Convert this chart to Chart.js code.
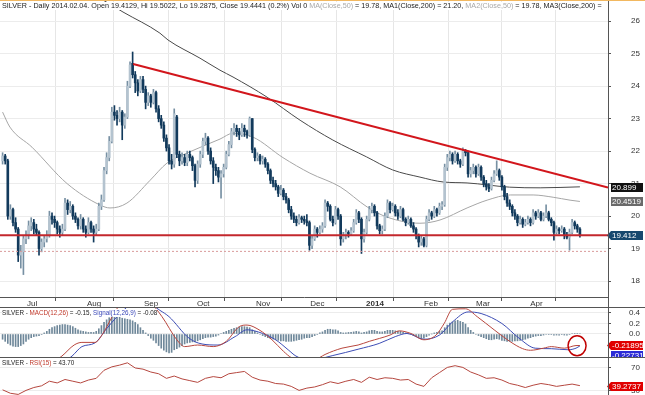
<!DOCTYPE html>
<html>
<head>
<meta charset="utf-8">
<title>SILVER daily</title>
<script src="https://cdn.jsdelivr.net/npm/chart.js@4.4.1/dist/chart.umd.min.js"></script>
<style>
  body { margin:0; background:#fff; font-family:"Liberation Sans", Arial, sans-serif; }
  #wrap { position:relative; width:645px; height:395px; overflow:hidden; background:#fff; }
  canvas { position:absolute; left:0; }
  .ttl { position:absolute; left:2px; font-size:7.2px; line-height:8px; color:#222; background:#fff; white-space:nowrap; }
  .sm { font-size:6.3px; }
  .g { color:#a8a8a8; } .r { color:#c0392b; } .b { color:#3a48b8; }
  .hl { position:absolute; left:0; width:645px; height:1px; background:#555; }
  #vline { position:absolute; left:608px; top:0; width:1px; height:395px; background:#555; }
  #topbar { position:absolute; left:0; top:0; width:645px; height:1px; background:#f2b860; }
</style>
</head>
<body>
<div id="wrap">
  <canvas id="price" width="645" height="308" style="top:0"></canvas>
  <canvas id="macd" width="645" height="49" style="top:308px"></canvas>
  <canvas id="rsi" width="645" height="37" style="top:358px"></canvas>
  <div class="hl" style="top:307px"></div>
  <div class="hl" style="top:357px"></div>
  <div id="vline"></div>
  <div id="topbar"></div>
  <div class="ttl" style="top:2px">SILVER - Daily 2014.02.04. Open 19.4129, Hi 19.5022, Lo 19.2875, Close 19.4441 (0.2%) Vol 0 <span class="g">MA(Close,50)</span> = 19.78, MA1(Close,200) = 21.20, <span class="g">MA2(Close,50)</span> = 19.78, MA3(Close,200) = </div>
  <div class="ttl sm" style="top:309px">SILVER - <span class="r">MACD(12,26)</span> = -0.15, <span class="b">Signal(12,26,9)</span> = -0.08</div>
  <div class="ttl sm" style="top:359px">SILVER - <span class="r">RSI(15)</span> = 43.70</div>
</div>
<script>
// x = trading day index, 0 = first candle (late June 2013)
const monthPos = [8.6, 31.7, 53.6, 74, 96.7, 117.5, 139, 161.3, 181.3, 202.1];
const monthNames = ['Jul', 'Aug', 'Sep', 'Oct', 'Nov', 'Dec', '2014', 'Feb', 'Mar', 'Apr'];
const priceTicks = [18, 19, 20, 21, 22, 23, 24, 25, 26];
const macdTicks = [0, 0.2, 0.4];
const rsiTicks = [30, 70];

const opens = [
  21.70,21.85,21.70,20.00,20.20,19.80,19.60,18.80,18.90,19.30,
  19.40,19.70,19.80,19.60,19.50,19.00,19.20,19.30,19.40,20.00,
  19.90,19.80,19.60,19.50,19.60,20.40,20.20,20.30,20.00,19.90,
  19.70,19.90,19.60,19.50,19.80,19.60,19.50,19.60,20.30,20.50,
  21.40,21.80,22.30,23.20,23.10,23.00,23.20,22.80,23.05,24.00,
  24.70,24.35,24.10,23.85,24.20,23.90,23.50,23.70,23.50,23.80,
  23.30,23.00,22.80,22.40,22.10,21.70,21.60,23.05,21.90,21.70,
  21.80,21.65,21.90,21.80,21.55,21.10,21.60,21.90,22.30,22.40,
  22.00,21.70,21.50,21.40,21.20,21.30,21.50,21.90,22.20,22.60,
  22.70,22.60,22.50,22.70,22.60,22.50,23.00,22.05,21.80,21.85,
  21.70,21.75,21.60,21.40,21.10,21.00,20.90,20.70,20.80,20.60,
  20.50,20.20,20.00,19.90,19.80,19.95,19.90,19.85,19.80,19.10,
  19.30,19.60,19.50,19.60,19.70,20.40,20.30,19.90,19.80,20.20,
  20.00,19.30,19.40,19.50,19.45,19.55,19.80,20.10,19.90,19.30,
  19.50,19.90,20.20,20.30,20.10,19.70,19.55,19.60,20.00,20.40,
  20.20,20.30,20.10,20.00,20.20,19.90,19.80,19.90,19.70,19.60,
  19.40,19.20,19.30,19.10,19.90,20.10,20.00,20.20,20.10,20.30,
  20.35,21.50,21.80,21.90,21.70,21.90,21.70,21.60,22.00,21.95,
  21.30,21.40,21.50,21.30,21.50,21.20,21.00,20.90,20.85,21.10,
  21.30,21.40,21.20,20.90,20.60,20.40,20.30,20.10,20.00,19.80,
  19.90,19.75,19.80,19.90,19.80,20.10,20.00,20.10,19.90,20.00,
  20.10,19.90,19.80,19.50,19.60,19.55,19.60,19.40,19.35,19.50,
  19.80,19.70,19.60
];
const highs = [
  21.95,21.90,21.75,20.35,20.25,19.95,19.65,19.10,19.40,19.55,
  19.85,19.95,19.90,19.75,19.55,19.30,19.40,19.55,20.15,20.10,
  20.00,19.85,19.70,19.75,20.55,20.50,20.45,20.35,20.10,19.95,
  20.05,19.95,19.70,19.95,19.85,19.70,19.75,20.40,20.65,21.50,
  21.95,22.45,23.35,23.40,23.25,23.35,23.25,23.15,24.15,24.75,
  25.05,24.45,24.20,24.30,24.30,24.00,23.80,23.75,23.90,23.85,
  23.40,23.10,22.90,22.50,22.20,21.90,23.30,23.10,22.00,21.95,
  21.90,22.00,22.00,21.85,21.60,21.70,22.00,22.40,22.55,22.45,
  22.10,21.80,21.60,21.50,21.40,21.60,22.00,22.30,22.70,22.85,
  22.80,22.70,22.85,22.80,22.65,23.05,23.00,22.10,21.95,21.90,
  21.85,21.80,21.65,21.45,21.20,21.10,20.95,20.95,20.85,20.70,
  20.55,20.30,20.10,20.00,20.05,20.00,20.00,20.05,19.85,19.40,
  19.70,19.65,19.70,19.80,20.50,20.45,20.35,20.00,20.30,20.25,
  20.05,19.50,19.60,19.55,19.65,19.90,20.20,20.15,19.95,19.60,
  20.00,20.30,20.40,20.35,20.15,19.75,19.70,20.10,20.50,20.45,
  20.40,20.35,20.20,20.30,20.25,19.95,20.00,19.95,19.80,19.65,
  19.45,19.40,19.35,20.00,20.20,20.15,20.30,20.25,20.40,20.45,
  21.60,21.90,22.00,21.95,22.00,21.95,21.75,22.10,22.05,22.00,
  21.50,21.60,21.55,21.60,21.55,21.25,21.10,21.00,21.20,21.40,
  21.70,21.45,21.25,20.95,20.70,20.50,20.35,20.20,20.05,20.00,
  19.95,19.90,20.00,19.95,20.20,20.15,20.20,20.15,20.10,20.35,
  20.15,19.95,19.85,19.70,19.65,19.70,19.65,19.50,19.60,19.90,
  19.85,19.75,19.65
];
const lows = [
  21.60,21.60,19.90,19.90,19.70,19.50,18.60,18.40,18.20,19.15,
  19.30,19.55,19.45,19.40,18.80,18.90,19.05,19.20,19.35,19.75,
  19.65,19.45,19.35,19.40,19.55,20.05,20.10,19.90,19.80,19.60,
  19.60,19.50,19.35,19.45,19.50,19.20,19.40,19.55,20.20,20.45,
  21.30,21.70,22.25,22.95,22.80,22.90,22.35,22.70,23.00,23.95,
  24.25,23.80,23.70,23.80,23.80,23.30,23.40,23.35,23.45,23.20,
  22.90,22.70,22.30,22.00,21.60,21.45,21.50,21.80,21.55,21.60,
  21.55,21.55,21.70,21.40,20.90,21.00,21.50,21.80,22.20,21.90,
  21.60,21.00,21.25,21.05,20.55,21.20,21.45,21.85,22.10,22.50,
  22.45,22.35,22.45,22.45,22.40,22.45,21.95,21.70,21.70,21.60,
  21.60,21.50,21.30,21.00,20.90,20.80,20.60,20.65,20.50,20.40,
  20.10,19.90,19.80,19.70,19.75,19.80,19.75,19.70,18.95,19.00,
  19.25,19.35,19.45,19.50,19.65,20.15,19.85,19.70,19.75,19.90,
  19.10,19.20,19.30,19.35,19.40,19.50,19.75,19.80,18.85,19.20,
  19.45,19.85,20.10,20.00,19.60,19.45,19.45,19.55,19.95,20.10,
  20.15,20.00,19.90,19.95,19.85,19.70,19.75,19.65,19.50,19.30,
  19.05,19.10,19.05,19.05,19.85,19.90,19.95,20.00,20.05,20.20,
  20.30,21.40,21.70,21.60,21.65,21.60,21.50,21.55,21.85,21.20,
  21.20,21.30,21.20,21.25,21.10,20.90,20.80,20.75,20.80,21.05,
  21.25,21.10,20.80,20.50,20.30,20.20,20.00,19.90,19.70,19.75,
  19.65,19.70,19.75,19.70,19.75,19.90,19.95,19.85,19.85,19.95,
  19.85,19.70,19.26,19.45,19.45,19.50,19.30,19.30,18.95,19.45,
  19.60,19.50,19.35
];
const closes = [
  21.85,21.70,20.00,20.20,19.80,19.60,18.80,18.90,19.30,19.40,
  19.70,19.80,19.60,19.50,19.00,19.20,19.30,19.40,20.00,19.90,
  19.80,19.60,19.50,19.60,20.40,20.20,20.30,20.00,19.90,19.70,
  19.90,19.60,19.50,19.80,19.60,19.50,19.60,20.30,20.50,21.40,
  21.80,22.30,23.20,23.10,23.00,23.20,22.80,23.05,24.00,24.65,
  24.35,24.10,23.85,24.20,23.90,23.50,23.70,23.50,23.80,23.30,
  23.00,22.80,22.40,22.10,21.70,21.60,23.15,21.90,21.70,21.80,
  21.65,21.90,21.80,21.55,21.10,21.60,21.90,22.30,22.40,22.00,
  21.70,21.50,21.40,21.20,21.30,21.50,21.90,22.20,22.60,22.70,
  22.60,22.50,22.70,22.60,22.50,23.00,22.05,21.80,21.85,21.70,
  21.75,21.60,21.40,21.10,21.00,20.90,20.70,20.80,20.60,20.50,
  20.20,20.00,19.90,19.80,19.95,19.90,19.85,19.80,19.10,19.30,
  19.60,19.50,19.60,19.70,20.40,20.30,19.90,19.80,20.20,20.00,
  19.30,19.40,19.50,19.45,19.55,19.80,20.10,19.90,19.30,19.50,
  19.90,20.20,20.30,20.10,19.70,19.55,19.60,20.00,20.40,20.20,
  20.30,20.10,20.00,20.20,19.90,19.80,19.90,19.70,19.60,19.40,
  19.20,19.30,19.10,19.90,20.10,20.00,20.20,20.10,20.30,20.35,
  21.50,21.80,21.90,21.70,21.90,21.70,21.60,22.00,21.95,21.30,
  21.40,21.50,21.30,21.50,21.20,21.00,20.90,20.85,21.10,21.30,
  21.40,21.20,20.90,20.60,20.40,20.30,20.10,20.00,19.80,19.90,
  19.75,19.80,19.90,19.80,20.10,20.00,20.10,19.90,20.00,20.10,
  19.90,19.80,19.50,19.60,19.55,19.60,19.40,19.35,19.50,19.80,
  19.70,19.60,19.40
];

// moving averages as [day, value]
const ma50 = [[0,23.2],[2.8,22.74],[11.3,22.12],[24.8,21.0],[37.5,20.34],[41.3,20.25],[47.8,20.4],
  [56.7,21.1],[63.2,21.63],[70.9,21.94],[83.6,22.37],[88.6,22.55],[96.3,22.43],[107.8,21.8],
  [118.2,21.32],[129.8,20.9],[140.2,20.28],[147.8,19.97],[160.5,19.78],[168.2,19.88],[178.6,20.25],
  [186.3,20.49],[195.2,20.65],[204,20.65],[211.7,20.58],[218.2,20.49],[222,20.45]];
const ma200 = [[0,28.4],[38.6,26.65],[46.3,26.28],[60.5,25.63],[63.6,25.42],[75.9,24.86],[83.6,24.49],
  [88.6,24.28],[101.7,23.66],[114.4,22.95],[127,22.34],[140,21.82],[150,21.42],[160.5,21.2],
  [169.4,21.05],[178.6,21.02],[195,20.89],[206.7,20.87],[222,20.9]];
const trendLine = [[50.2,24.68],[232.8,20.88]];
const supportLevel = 19.412;
const dottedLevel = 18.914;

const macdHist = [
  -0.10,-0.14,-0.18,-0.21,-0.23,-0.24,-0.24,-0.22,-0.19,-0.14,
  -0.10,-0.07,-0.05,-0.04,-0.03,-0.01,0.02,0.05,0.09,0.12,
  0.14,0.16,0.17,0.18,0.18,0.17,0.16,0.14,0.11,0.08,
  0.06,0.05,0.04,0.03,0.03,0.03,0.05,0.10,0.16,0.22,
  0.27,0.31,0.33,0.34,0.33,0.32,0.30,0.29,0.28,0.27,
  0.25,0.22,0.18,0.12,0.07,0.02,-0.03,-0.08,-0.12,-0.17,
  -0.22,-0.27,-0.31,-0.34,-0.36,-0.35,-0.30,-0.28,-0.25,-0.22,
  -0.19,-0.17,-0.16,-0.15,-0.15,-0.13,-0.11,-0.09,-0.07,-0.06,
  -0.06,-0.05,-0.04,-0.02,0.01,0.03,0.05,0.07,0.09,0.11,
  0.12,0.13,0.14,0.14,0.13,0.12,0.08,0.05,0.02,-0.01,
  -0.03,-0.05,-0.07,-0.09,-0.10,-0.11,-0.12,-0.13,-0.13,-0.14,
  -0.14,-0.14,-0.13,-0.12,-0.11,-0.10,-0.08,-0.07,-0.07,-0.05,
  -0.03,-0.01,0.02,0.04,0.07,0.09,0.09,0.08,0.08,0.06,
  0.03,0.02,0.02,0.03,0.03,0.04,0.05,0.04,0.02,0.03,
  0.04,0.06,0.07,0.07,0.05,0.04,0.04,0.05,0.07,0.07,
  0.07,0.06,0.05,0.05,0.03,0.02,0.01,-0.01,-0.03,-0.05,
  -0.07,-0.08,-0.08,-0.05,-0.02,0.00,0.02,0.03,0.05,0.06,
  0.12,0.17,0.21,0.23,0.25,0.26,0.24,0.22,0.19,0.12,
  0.07,0.03,-0.01,-0.03,-0.05,-0.07,-0.09,-0.11,-0.11,-0.10,
  -0.09,-0.10,-0.12,-0.13,-0.14,-0.14,-0.14,-0.13,-0.13,-0.12,
  -0.11,-0.10,-0.08,-0.07,-0.05,-0.04,-0.03,-0.03,-0.02,-0.01,
  -0.01,-0.01,-0.02,-0.02,-0.02,-0.01,-0.02,-0.02,-0.01,0.01,
  0.01,0.01,0.01
];
const macdLine = [[0,-0.75],[10,-0.70],[18,-0.58],[22.8,-0.42],[27.5,-0.21],[30.5,-0.16],[35.5,-0.16],
  [38.6,0.01],[41.7,0.29],[45,0.55],[51,0.72],[56.7,0.6],[61.3,0.33],[67,-0.11],[70,-0.24],[75,-0.21],
  [81,-0.24],[86,-0.14],[91,0.14],[94,0.17],[98.6,0.08],[103.6,-0.11],[108,-0.33],[111,-0.45],[116,-0.55],
  [120,-0.5],[124,-0.39],[130.5,-0.27],[136.7,-0.21],[141,-0.14],[149,-0.02],[152.5,0.06],[157,0.01],
  [162,-0.11],[166.7,-0.02],[169.8,0.2],[173,0.47],[178,0.48],[182.5,0.33],[189,0.08],[195,-0.14],
  [200,-0.28],[203,-0.31],[208,-0.27],[211,-0.24],[216,-0.27],[220.5,-0.22],[222,-0.219]];
const signalLine = [[0,-0.8],[15,-0.72],[22,-0.58],[26.7,-0.42],[30.5,-0.24],[35.5,-0.17],[40,0.1],
  [44,0.33],[49,0.55],[54.8,0.62],[60.5,0.45],[64,0.33],[71.7,-0.08],[76.7,-0.19],[82.8,-0.21],
  [89.4,-0.05],[94,0.08],[100,0.01],[105,-0.11],[109.8,-0.3],[112.8,-0.42],[118,-0.5],[127,-0.41],
  [136.7,-0.29],[144.8,-0.18],[151,-0.05],[155.5,0.01],[162,-0.1],[168,-0.02],[173,0.23],[179,0.42],
  [184,0.39],[192,0.2],[198.6,-0.08],[204.8,-0.27],[211,-0.28],[217.5,-0.3],[220.5,-0.27],[222,-0.227]];
const rsi = [[0,32],[3,26],[6,24],[9,31],[12,36],[15,39],[18,47],[21,44],[24,50],[27,47],[30,44],[33,49],
  [36,52],[39,66],[42,72],[45,75],[48,79],[51,70],[54,68],[57,63],[60,60],[63,52],[66,56],[69,51],
  [72,48],[75,45],[78,52],[81,55],[84,53],[87,60],[90,62],[93,64],[96,54],[99,49],[102,47],[105,43],
  [108,42],[111,38],[114,31],[117,35],[120,37],[123,41],[126,46],[129,43],[132,47],[135,50],[138,45],
  [141,54],[144,50],[147,53],[150,52],[153,49],[156,50],[159,42],[162,38],[165,53],[168,62],[171,71],
  [174,74],[177,71],[180,63],[183,58],[186,52],[189,53],[192,49],[195,43],[198,40],[201,36],[204,40],
  [207,43],[210,41],[213,38],[216,40],[219,42],[222,39.27]];

const X_MIN = -1, X_MAX = 232.8;
const FONT = '"Liberation Sans", Arial, sans-serif';
Chart.defaults.font.family = FONT;

const pts = arr => arr.map(p => ({ x: p[0], y: p[1] }));
const bull = closes.map((c, i) => c >= opens[i]);

function xAxis(show) {
  return {
    type: 'linear', min: X_MIN, max: X_MAX, display: show, offset: false,
    afterBuildTicks: ax => { ax.ticks = monthPos.map(v => ({ value: v })); },
    afterFit: ax => { ax.height = show ? 11 : 0; ax.paddingLeft = 0; ax.paddingRight = 0; },
    grid: { color: '#e6e6e6', tickLength: 4, tickColor: '#555' },
    border: { display: true, color: '#555' },
    ticks: {
      autoSkip: false, maxRotation: 0, align: 'start', padding: -2, labelOffset: 2, color: '#333',
      font: c => ({ size: 8, family: FONT, weight: monthNames[c.index] === '2014' ? 'bold' : 'normal' }),
      callback: (v, i) => monthNames[i]
    }
  };
}
function yAxis(min, max, ticks, fmt, pad) {
  return {
    position: 'right', min: min, max: max,
    afterBuildTicks: ax => { ax.ticks = ticks.map(v => ({ value: v })); },
    afterFit: ax => { ax.width = 32; ax.paddingTop = 0; ax.paddingBottom = 0; },
    grid: { color: '#ececec', tickLength: 3, tickColor: '#555' },
    border: { display: false },
    ticks: { crossAlign: 'far', padding: pad, color: '#333', font: { size: 8 }, callback: fmt }
  };
}
function tags(items) {
  return {
    id: 'tags',
    afterDraw(chart) {
      const ctx = chart.ctx, y = chart.scales.y, r = chart.chartArea.right;
      ctx.save();
      ctx.font = '8px ' + FONT;
      ctx.textBaseline = 'middle';
      items.forEach(t => {
        const yc = Math.round(y.getPixelForValue(t.value)) + (t.shift || 0) + 0.5;
        const x0 = r + 3, x1 = r + 35, h = 9;
        ctx.fillStyle = t.bg;
        ctx.beginPath();
        if (t.arrow) {
          ctx.moveTo(r - 1, yc); ctx.lineTo(x0, yc - h / 2);
        } else {
          ctx.moveTo(x0, yc - h / 2);
        }
        ctx.lineTo(x1, yc - h / 2); ctx.lineTo(x1, yc + h / 2); ctx.lineTo(x0, yc + h / 2);
        ctx.closePath(); ctx.fill();
        ctx.fillStyle = '#fff';
        ctx.fillText(t.text, x0 + 1, yc + 0.5);
      });
      ctx.restore();
    }
  };
}
const ring = {
  id: 'ring',
  afterDatasetsDraw(chart) {
    const ctx = chart.ctx;
    ctx.save();
    ctx.strokeStyle = '#c00000'; ctx.lineWidth = 1.5;
    ctx.beginPath();
    ctx.ellipse(chart.scales.x.getPixelForValue(220.9), chart.scales.y.getPixelForValue(-0.223), 9, 10, 0, 0, Math.PI * 2);
    ctx.stroke();
    ctx.restore();
  }
};
const base = {
  animation: false, responsive: false, devicePixelRatio: 1, events: [],
  layout: { autoPadding: false, padding: { left: 0, right: 5, top: 0, bottom: 0 } },
  plugins: { legend: { display: false }, tooltip: { enabled: false } }
};

new Chart(document.getElementById('price'), {
  type: 'bar',
  data: {
    datasets: [
      { type: 'line', data: pts(trendLine), borderColor: '#d2161c', borderWidth: 2, pointRadius: 0 },
      { type: 'line', data: [{ x: X_MIN, y: supportLevel }, { x: X_MAX, y: supportLevel }], borderColor: '#c3272d', borderWidth: 2, pointRadius: 0 },
      { type: 'line', data: [{ x: X_MIN, y: dottedLevel }, { x: X_MAX, y: dottedLevel }], borderColor: '#d99a9a', borderWidth: 1, borderDash: [2, 2], pointRadius: 0 },
      { data: closes.map((c, i) => ({ x: i, y: [opens[i], c] })), grouped: false, barThickness: 2, minBarLength: 1,
        backgroundColor: bull.map(b => b ? '#b4c3cf' : '#123a5c'), borderWidth: 0 },
      { data: closes.map((c, i) => ({ x: i, y: [lows[i], highs[i]] })), grouped: false, barThickness: 1,
        backgroundColor: bull.map(b => b ? '#7790a3' : '#123a5c'), borderWidth: 0 },
      { type: 'line', data: pts(ma50), borderColor: '#a6a6a6', borderWidth: 1, pointRadius: 0, cubicInterpolationMode: 'monotone' },
      { type: 'line', data: pts(ma200), borderColor: '#4a4a4a', borderWidth: 1, pointRadius: 0, cubicInterpolationMode: 'monotone' }
    ]
  },
  options: Object.assign({}, base, {
    scales: { x: xAxis(true), y: yAxis(17.51, 26.65, priceTicks, v => String(v), 20) }
  }),
  plugins: [tags([
    { value: 20.899, text: '20.899', bg: '#111' },
    { value: 20.4519, text: '20.4519', bg: '#6a6a6a' },
    { value: supportLevel, text: '19.412', bg: '#17486e', arrow: true }
  ])]
});

new Chart(document.getElementById('macd'), {
  type: 'bar',
  data: {
    datasets: [
      { type: 'line', data: pts(macdLine), borderColor: '#b8473e', borderWidth: 1, pointRadius: 0, cubicInterpolationMode: 'monotone' },
      { type: 'line', data: pts(signalLine), borderColor: '#3d4db5', borderWidth: 1, pointRadius: 0, cubicInterpolationMode: 'monotone' },
      { data: macdHist.map((v, i) => ({ x: i, y: v })), grouped: false, barThickness: 1, backgroundColor: '#6f889a', borderWidth: 0 }
    ]
  },
  options: Object.assign({}, base, {
    scales: { x: xAxis(false), y: yAxis(-0.438, 0.495, macdTicks, v => v.toFixed(1), 18) }
  }),
  plugins: [ring, tags([
    { value: -0.2273, text: '-0.22731', bg: '#2b2bd6', arrow: false, shift: 9 },
    { value: -0.21895, text: '-0.21895', bg: '#e00000', arrow: true }
  ])]
});

new Chart(document.getElementById('rsi'), {
  type: 'line',
  data: {
    datasets: [
      { data: pts(rsi), borderColor: '#b5473f', borderWidth: 1, pointRadius: 0 }
    ]
  },
  options: Object.assign({}, base, {
    scales: { x: xAxis(false), y: yAxis(23.0, 87.4, rsiTicks, v => String(v), 20) }
  }),
  plugins: [tags([
    { value: 39.2737, text: '39.2737', bg: '#e00000', arrow: true }
  ])]
});
</script>
</body>
</html>
